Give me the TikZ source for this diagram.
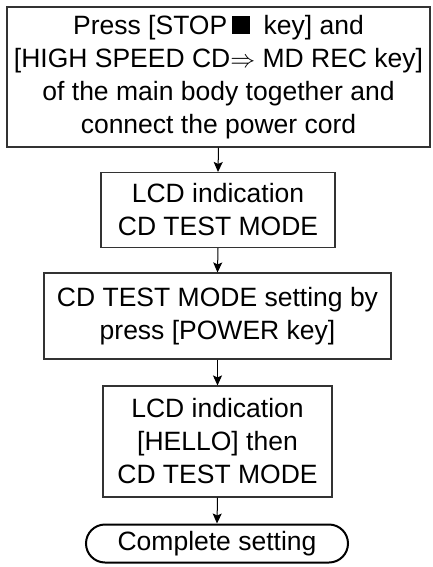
\documentclass[tikz,border=0pt]{standalone}
\usepackage{fontspec}
\setmainfont{Liberation Sans}
\usetikzlibrary{arrows.meta}
\tikzset{
  flowbox/.style={draw=black!80, line width=1.1pt, align=center, inner sep=0pt,
    font=\fontsize{26.5}{33}\selectfont},
  termbox/.style={draw=black, line width=2pt, rounded corners=19pt, align=center, inner sep=0pt,
    font=\fontsize{26.5}{33}\selectfont},
  flowarrow/.style={draw=black, line width=1pt, -{Stealth[length=10pt,width=9pt,inset=2pt]}}
}
\begin{document}
\begin{tikzpicture}[x=1pt,y=-1pt]
\useasboundingbox (0,0) rectangle (432,567);
\node[flowbox, minimum width=423pt, minimum height=140pt] (b1) at (218.5,77)
  {Press [STOP\,\rule{18pt}{18pt}\hspace{14pt}key] and\\
   {[HIGH SPEED CD$\Rightarrow$ MD REC key]}\\
   of the main body together and\\
   connect the power cord};
\node[flowbox, minimum width=234pt, minimum height=75pt] (b2) at (218,210)
  {LCD indication\\CD TEST MODE};
\node[flowbox, minimum width=347pt, minimum height=86pt] (b3) at (217.5,316)
  {CD TEST MODE setting by\\press [POWER key]};
\node[flowbox, minimum width=229pt, minimum height=111pt] (b4) at (217.5,441.5)
  {LCD indication\\{[HELLO]} then\\CD TEST MODE};
\node[termbox, minimum width=262pt, minimum height=38pt] (t) at (217,543.5)
  {Complete setting};
\draw[flowarrow] (b1.south) -- (b2.north);
\draw[flowarrow] (b2.south) -- (b3.north);
\draw[flowarrow] (b3.south) -- (b4.north);
\draw[flowarrow] (b4.south) -- (t.north);
\end{tikzpicture}
\end{document}
